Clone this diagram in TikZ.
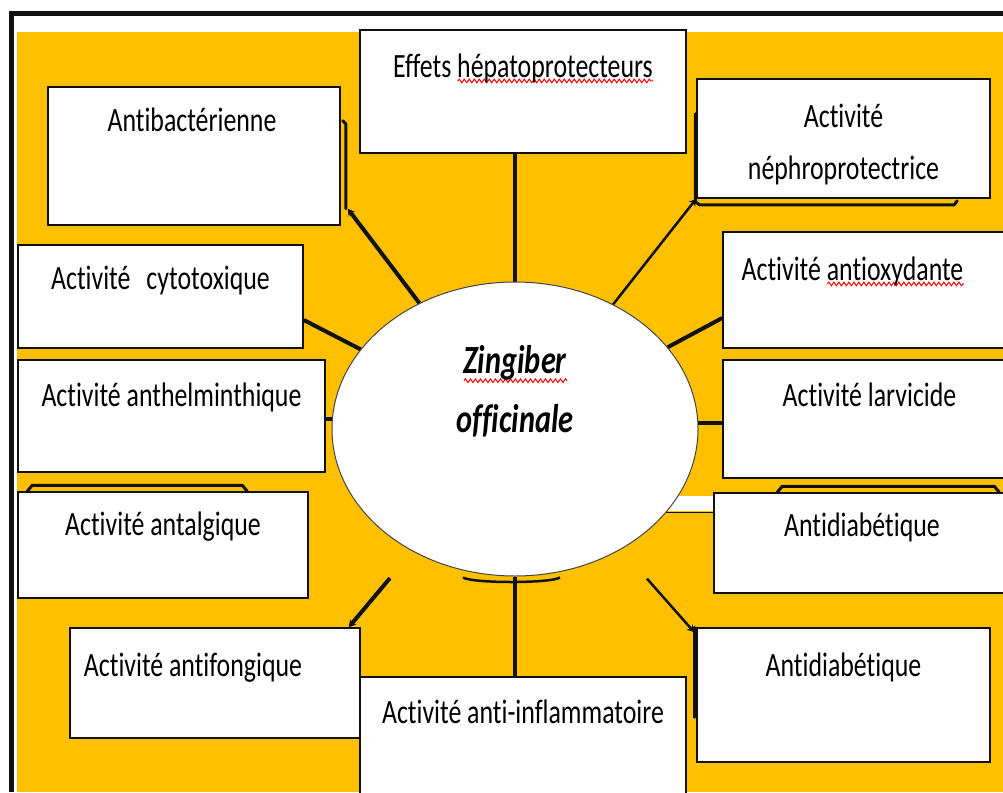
\documentclass[tikz,border=0pt]{standalone}
\usepackage{fontspec}
\setmainfont{Carlito}[FakeStretch=0.76, Ligatures=NoCommon]
\usetikzlibrary{shapes.geometric, arrows.meta, backgrounds, decorations.pathmorphing}
\definecolor{ZingGold}{HTML}{FFC000}
\definecolor{ZingBlack}{HTML}{111111}
\definecolor{ZingEdge}{HTML}{444444}
\newsavebox\spellbox
\newcommand\spellerr[2][6pt]{%
    \sbox\spellbox{#2}%
    \leavevmode\rlap{\raisebox{-#1}{\tikz\draw[red, line width=1pt, decorate,
        decoration={snake, amplitude=1.8pt, segment length=5pt}] (0pt,0pt) -- (\wd\spellbox,0pt);}}%
    \usebox\spellbox}
\tikzset{
    box/.style={
        draw=ZingBlack,
        fill=white,
        line width=1.5pt,
        inner sep=0pt
    },
    lbl/.style={
        anchor=base,
        inner sep=0pt,
        text=black,
        font=\fontsize{34}{40}\selectfont
    },
    zinglbl/.style={
        anchor=base,
        inner sep=0pt,
        text=black,
        font=\fontsize{40}{48}\selectfont\bfseries\itshape
    },
    conn/.style={
        line width=4pt,
        ZingBlack
    },
    thinconn/.style={
        line width=2.5pt,
        ZingBlack
    },
    bracket/.style={
        line width=3pt,
        ZingBlack,
        line join=round,
        line cap=round
    },
    tip/.style={
        -{Stealth[length=7pt, width=8pt]}
    }
}

\begin{document}
\begin{tikzpicture}[x=1pt, y=-1pt]
        \useasboundingbox (0,0) rectangle (1003,792);

        % Centre
        \node[ellipse, draw=ZingEdge, fill=white, line width=1pt, inner sep=0pt,
              minimum width=366pt, minimum height=294pt] (zing) at (515,429) {};
        \node[zinglbl] (zing-a) at (515,373) {\spellerr[10pt]{Zingiber}};
        \node[zinglbl] (zing-b) at (515,432) {officinale};

        % Top row
        \node[box, minimum width=326pt, minimum height=123pt] (hepato) at (523,91.5) {};
        \node[lbl] (hepato-t) at ([yshift=-48pt]hepato.north) {Effets \spellerr{hépatoprotecteurs}};

        \node[box, minimum width=292pt, minimum height=138pt] (antibac) at (194,156) {};
        \node[lbl] (antibac-t) at ([xshift=-2pt, yshift=-45pt]antibac.north) {Antibactérienne};

        \node[box, minimum width=293pt, minimum height=119pt] (nephro) at (843.5,138.5) {};
        \node[lbl] (nephro-t1) at ([yshift=-49pt]nephro.north) {Activité};
        \node[lbl] (nephro-t2) at ([yshift=-101pt]nephro.north) {néphroprotectrice};

        % Left column
        \node[box, minimum width=285pt, minimum height=103pt] (cyto) at (160.5,296.5) {};
        \node[lbl] (cyto-t) at ([yshift=-45pt]cyto.north) {Activité\hspace{16pt}cytotoxique};

        \node[box, minimum width=307pt, minimum height=112pt] (anthel) at (171.5,416) {};
        \node[lbl] (anthel-t) at ([yshift=-47pt]anthel.north) {Activité anthelminthique};

        \node[box, minimum width=290pt, minimum height=106pt] (antalg) at (163,545) {};
        \node[lbl] (antalg-t) at ([yshift=-44pt]antalg.north) {Activité antalgique};

        \node[box, minimum width=290pt, minimum height=110pt] (antifong) at (215,683) {};
        \node[lbl] (antifong-t) at ([xshift=-22pt, yshift=-49pt]antifong.north) {Activité antifongique};

        % Right column
        \node[box, minimum width=287pt, minimum height=116pt] (antiox) at (866.5,290) {};
        \node[lbl] (antiox-t) at ([xshift=-14pt, yshift=-49pt]antiox.north) {Activité \spellerr{antioxydante}};

        \node[box, minimum width=287pt, minimum height=118pt] (larv) at (866.5,419) {};
        \node[lbl] (larv-t) at ([xshift=3pt, yshift=-47pt]larv.north) {Activité larvicide};

        \node[box, minimum width=296pt, minimum height=100pt] (antidiab1) at (862,543) {};
        \node[lbl] (antidiab1-t) at ([yshift=-44pt]antidiab1.north) {Antidiabétique};

        \node[box, minimum width=293pt, minimum height=134pt] (antidiab2) at (843.5,695) {};
        \node[lbl] (antidiab2-t) at ([yshift=-49pt]antidiab2.north) {Antidiabétique};

        % Bottom
        \node[box, minimum width=326pt, minimum height=123pt] (antiinfl) at (523,738.5) {};
        \node[lbl] (antiinfl-t) at ([yshift=-47pt]antiinfl.north) {Activité anti-inflammatoire};

        \begin{scope}[on background layer]
            \fill[ZingGold] (17,32) rectangle (1003,792);
            \draw[line width=5pt, ZingBlack] (11,792) -- (11,14) -- (1003,14);

            % Spokes
            \draw[conn] (zing.north) -- (zing.north |- hepato.south);
            \draw[conn] (zing.south) -- (zing.south |- antiinfl.north);
            \draw[line width=2.5pt, ZingBlack] ([xshift=-52pt, yshift=-1pt]zing.south)
                .. controls +(10,6) and +(-10,6) .. ([xshift=45pt, yshift=-1pt]zing.south);

            \draw[conn, tip] (zing) -- ([xshift=7pt, yshift=17pt]antibac.south east);
            \draw[bracket] ([xshift=5pt, yshift=17pt]antibac.south east) -- ++(0,-85) -- ++(-3,-3);

            \draw[thinconn, tip] (zing) -- (nephro.south west);
            \draw[bracket] ([xshift=-1pt, yshift=85pt]nephro.south west) -- ([xshift=-1pt, yshift=-3pt]nephro.south west)
                -- ++(4,3) -- ++(255,0) -- ++(3,-4);

            \draw[conn] (zing) -- ([yshift=-23.5pt]cyto.east);
            \draw[conn] (zing) -- ([yshift=-28pt]antiox.west);
            \draw[conn] (zing.177.5) -- (zing.177.5 -| anthel.east);
            \draw[conn] (zing.2.5) -- (zing.2.5 -| larv.west);

            \draw[bracket] ([xshift=10pt]antalg.north west) -- ++(5,-6) -- ++(210,0) -- ++(5,6);
            \draw[bracket] ([xshift=64pt]antidiab1.north west) -- ++(5,-6) -- ++(212,0) -- ++(5,6);

            \fill[white] ([xshift=-60pt, yshift=-4pt]antidiab1.north west) rectangle ([yshift=-19pt]antidiab1.north west);
            \draw[line width=1.5pt, ZingBlack] ([xshift=-52pt, yshift=-20pt]antidiab1.north west) -- ([yshift=-20pt]antidiab1.north west);

            \draw[conn, tip, shorten <=35pt] (zing) -- ([xshift=-12pt]antifong.north east);
            \draw[thinconn, tip, shorten <=39pt] (zing) -- ([xshift=-2pt, yshift=-5pt]antidiab2.north west);
            \draw[bracket] ([xshift=-2pt]antidiab2.north west) -- ++(0,90);
        \end{scope}
    \end{tikzpicture}
\end{document}
